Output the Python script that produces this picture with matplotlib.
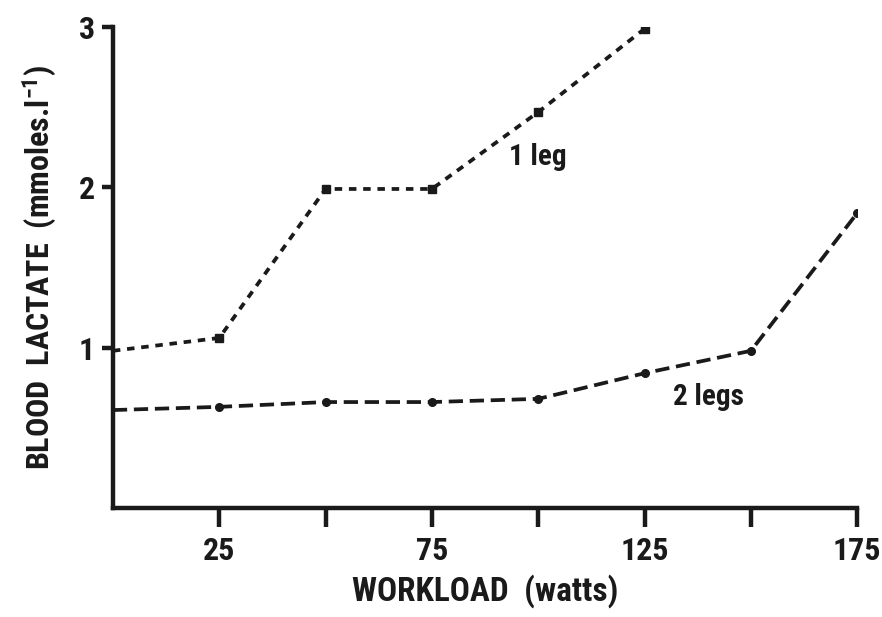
import matplotlib
matplotlib.use('Agg')
import matplotlib.pyplot as plt
from matplotlib import font_manager

# Workload (watts) and blood lactate (mmoles/l)
workload_one = [0, 25, 50, 75, 100, 125]
lactate_one = [0.98, 1.06, 1.99, 1.99, 2.47, 2.99]

workload_two = [0, 25, 50, 75, 100, 125, 150, 175]
lactate_two = [0.61, 0.63, 0.66, 0.66, 0.68, 0.84, 0.98, 1.84]

x_ticks = [25, 50, 75, 100, 125, 150, 175]
x_tick_labels = ['25', '', '75', '', '125', '', '175']
y_ticks = [1, 2, 3]

# pick a narrow heavy face if one is around
names = {f.name for f in font_manager.fontManager.ttflist}
family = 'DejaVu Sans'
for cand in ['Roboto Condensed', 'Archivo Narrow', 'PT Sans Narrow',
             'Liberation Sans Narrow', 'Barlow Condensed', 'Oswald']:
    if cand in names:
        family = cand
        break

heavy = 800
plt.rcParams['font.family'] = [family, 'DejaVu Sans']
plt.rcParams['font.weight'] = heavy
plt.rcParams['axes.labelweight'] = heavy
plt.rcParams['mathtext.fontset'] = 'custom'
plt.rcParams['mathtext.rm'] = family + ':bold'
plt.rcParams['mathtext.default'] = 'rm'

ink = '#1a1a1a'

fig = plt.figure(figsize=(8.82, 6.17), dpi=100)
ax = fig.add_axes([0.128, 0.177, 0.844, 0.779])

ax.plot(workload_one, lactate_one, color=ink, lw=2.7, dashes=(2.0, 1.8),
        marker='s', ms=5.5, markevery=list(range(1, len(workload_one))))
ax.plot(workload_two, lactate_two, color=ink, lw=2.7, dashes=(3.8, 1.8),
        marker='o', ms=5.5, markevery=list(range(1, len(workload_two))))

ax.text(100, 2.19, '1 leg', fontsize=21, color=ink, ha='center', va='center')
ax.text(140, 0.69, '2 legs', fontsize=21, color=ink, ha='center', va='center')

ax.set_xlim(0, 175)
ax.set_ylim(0, 3)
ax.set_xticks(x_ticks, x_tick_labels)
ax.set_yticks(y_ticks)

for side in ['top', 'right']:
    ax.spines[side].set_visible(False)
for side in ['left', 'bottom']:
    ax.spines[side].set_linewidth(3.2)
    ax.spines[side].set_color(ink)

ax.tick_params(axis='x', direction='out', length=14, width=3.2, color=ink,
               labelsize=23, labelcolor=ink, pad=6)
ax.tick_params(axis='y', direction='out', length=8, width=3.2, color=ink,
               labelsize=23, labelcolor=ink, pad=5)

ax.set_xlabel('WORKLOAD  (watts)', fontsize=24, color=ink, labelpad=6)
ax.set_ylabel(r'BLOOD  LACTATE  (mmoles.l$^{-1}$)', fontsize=23, color=ink,
              labelpad=14)

fig.savefig('out.png', dpi=100, facecolor='white')
